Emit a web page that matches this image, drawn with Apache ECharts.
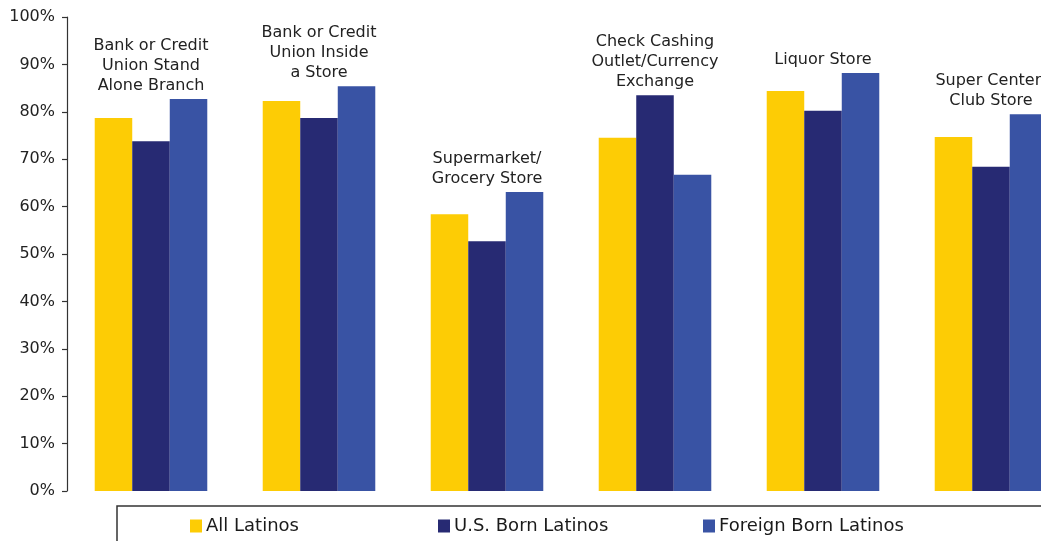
<!DOCTYPE html>
<html>
<head>
<meta charset="utf-8">
<script src="https://cdn.jsdelivr.net/npm/echarts@6/dist/echarts.min.js"></script>
<style>
  html, body { margin: 0; padding: 0; background: #fff; }
  #chart { width: 1041px; height: 541px; }
</style>
</head>
<body>
<div id="chart"></div>
<script>
// Share of Latinos naming each place, by nativity group
const categories = [
  'Bank or Credit\nUnion Stand\nAlone Branch',
  'Bank or Credit\nUnion Inside\na Store',
  'Supermarket/\nGrocery Store',
  'Check Cashing\nOutlet/Currency\nExchange',
  'Liquor Store',
  'Super Center/\nClub Store'
];
const seriesNames = ['All Latinos', 'U.S. Born Latinos', 'Foreign Born Latinos'];
const allLatinos  = [78.7, 82.3, 58.4, 74.5, 84.4, 74.7];
const usBorn      = [73.8, 78.7, 52.7, 83.5, 80.2, 68.4];
const foreignBorn = [82.7, 85.4, 63.1, 66.7, 88.2, 79.5];
const yMin = 0, yMax = 100, yStep = 10;

const colors = ['#FDCC05', '#272A73', '#3953A4'];
const FONT = '"DejaVu Sans", Verdana, sans-serif';

const chart = echarts.init(document.getElementById('chart'), null, { renderer: 'canvas' });

function legendAt(name, left) {
  return {
    data: [name], left: left, top: 517, padding: 0,
    icon: 'rect', itemWidth: 12, itemHeight: 13, itemGap: 4,
    selectedMode: false,
    textStyle: { fontFamily: FONT, fontSize: 18, color: '#1a1a1a', padding: [0, 0, 0, -1] }
  };
}

// Group title sits on the middle bar, lifted to clear the tallest bar of the group
function middleData(liftPx) {
  return usBorn.map((v, i) => ({
    value: v,
    label: { offset: [0, -(liftPx ? liftPx[i] : 0)] }
  }));
}

const option = {
  animation: false,
  backgroundColor: '#fff',
  color: colors,
  // the last group runs past the right edge of the canvas
  grid: { left: 67, top: 17, height: 474, width: 1008, outerBoundsMode: 'none', containLabel: false },
  legend: [legendAt(seriesNames[0], 190), legendAt(seriesNames[1], 438), legendAt(seriesNames[2], 703)],
  xAxis: {
    type: 'category', data: categories,
    axisLine: { show: false }, axisTick: { show: false }, axisLabel: { show: false }
  },
  yAxis: {
    type: 'value', min: yMin, max: yMax, interval: yStep,
    axisLine: { show: true, lineStyle: { color: '#333', width: 1.2 } },
    axisTick: { show: true, inside: false, length: 5, lineStyle: { color: '#333', width: 1.2 } },
    splitLine: { show: false },
    axisLabel: { formatter: '{value}%', fontFamily: FONT, fontSize: 16, color: '#222', margin: 12 }
  },
  graphic: [{
    type: 'rect', silent: true, z: -1,
    shape: { x: 117, y: 506, width: 1000, height: 100 },
    style: { fill: 'none', stroke: '#333', lineWidth: 1.5 }
  }],
  series: [
    { name: seriesNames[0], type: 'bar', data: allLatinos, barGap: '0%', barCategoryGap: '33%' },
    {
      name: seriesNames[1], type: 'bar', data: middleData(null), barGap: '0%', barCategoryGap: '33%',
      label: {
        show: true, position: 'top', distance: 3,
        formatter: p => categories[p.dataIndex],
        fontFamily: FONT, fontSize: 16, lineHeight: 20, color: '#222', align: 'center'
      }
    },
    { name: seriesNames[2], type: 'bar', data: foreignBorn, barGap: '0%', barCategoryGap: '33%' }
  ]
};

chart.setOption(option);

// Measure how far above the middle bar the tallest bar of each group reaches
const lift = usBorn.map((v, i) => {
  const top = Math.max(allLatinos[i], usBorn[i], foreignBorn[i]);
  const yTop = chart.convertToPixel({ yAxisIndex: 0 }, top);
  const yMid = chart.convertToPixel({ yAxisIndex: 0 }, v);
  return yMid - yTop;
});
chart.setOption({ series: [{}, { data: middleData(lift) }, {}] });
</script>
</body>
</html>
